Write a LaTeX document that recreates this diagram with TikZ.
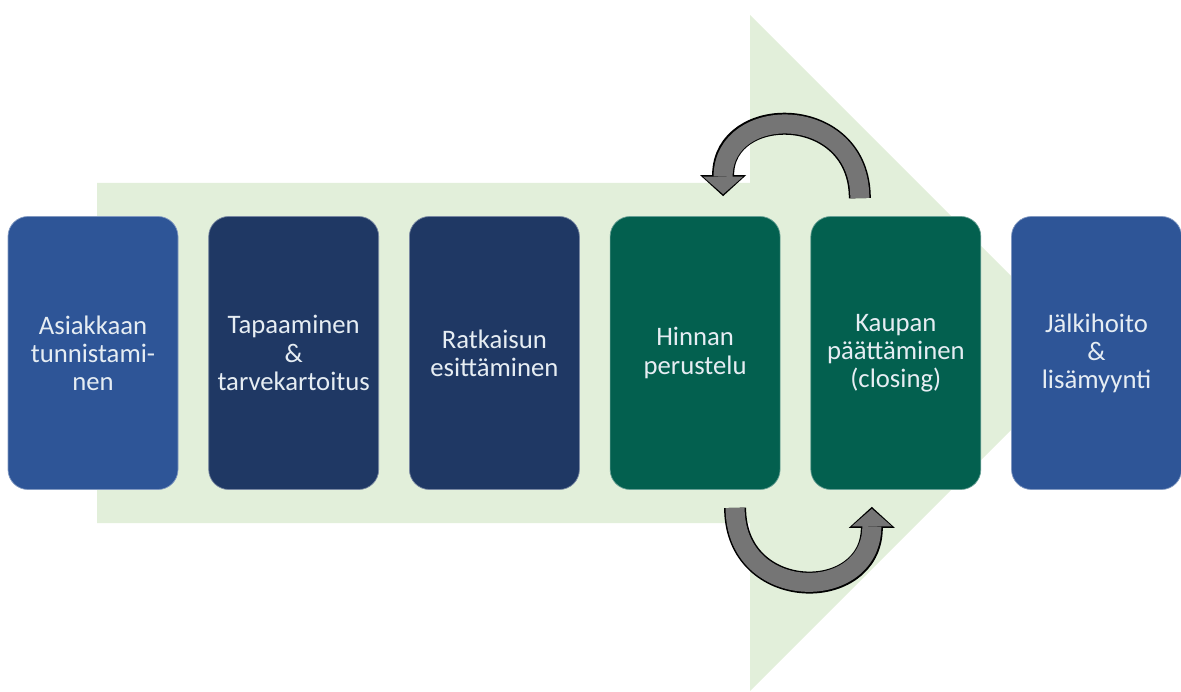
\documentclass[tikz,border=0pt]{standalone}
\usepackage{fontspec}
\setmainfont{Carlito}
\usetikzlibrary{positioning,calc,arrows.meta}
\definecolor{fundo}{HTML}{E2EFDA}
\definecolor{azul}{HTML}{2E5597}
\definecolor{marinho}{HTML}{1F3864}
\definecolor{verde}{HTML}{03604F}
\definecolor{cinza}{HTML}{757575}
\definecolor{texto}{HTML}{E6EDF3}

\begin{document}
\begin{tikzpicture}[
		etapa/.style={rounded corners=0.4cm, minimum width=3.4cm, minimum height=5.46cm, text width=3.2cm, align=center, text=texto, font=\fontsize{15.2}{16}\selectfont, inner sep=0pt},
		borda/.style={line width=0.44cm, black, -{Triangle[width=0.92cm, length=0.42cm, line width=0pt]}},
		miolo/.style={line width=0.38cm, cinza, shorten >=0.04cm, -{Triangle[width=0.8cm, length=0.35cm, line width=0pt]}}
	] %Estilos das etapas e das setas curvas
	\useasboundingbox (0,0) rectangle (23.62,13.82); %Margens
		%Seta larga do fundo
	\fill[fundo] (1.94,3.36) -- (15,3.36) -- (15,0) -- (21.76,6.76) -- (15,13.52) -- (15,10.16) -- (1.94,10.16) -- cycle;
		%Etapas da venda
	\node[etapa, fill=azul, draw=azul!60!white] (asiakas) at (1.86,6.76) {Asiakkaan\\tunnistami-\\nen};
	\node[etapa, fill=marinho, draw=marinho!60!white, right=0.6cm of asiakas] (tapaaminen) {Tapaaminen\\\&\\tarvekartoitus};
	\node[etapa, fill=marinho, draw=marinho!60!white, right=0.6cm of tapaaminen] (ratkaisu) {Ratkaisun\\esittäminen};
	\node[etapa, fill=verde, draw=verde!60!white, right=0.6cm of ratkaisu] (hinnan) {Hinnan\\perustelu};
	\node[etapa, fill=verde, draw=verde!60!white, right=0.6cm of hinnan] (kaupan) {Kaupan\\päättäminen\\(closing)};
	\node[etapa, fill=azul, draw=azul!60!white, right=0.6cm of kaupan] (jalkihoito) {Jälkihoito\\\&\\lisämyynti};
		%Setas curvas entre hinnan e kaupan
	\foreach \passo in {borda,miolo}{
		\draw[\passo] ($(kaupan.north)+(-0.72,0.36)$) .. controls +(0,1.9) and +(0,1.86) .. ($(hinnan.north)+(0.56,0.4)$); %Seta de cima
		\draw[\passo] ($(hinnan.south)+(0.8,-0.36)$) .. controls +(0,-1.92) and +(0,-1.94) .. ($(kaupan.south)+(-0.48,-0.34)$); %Seta de baixo
	}
\end{tikzpicture}
\end{document}
